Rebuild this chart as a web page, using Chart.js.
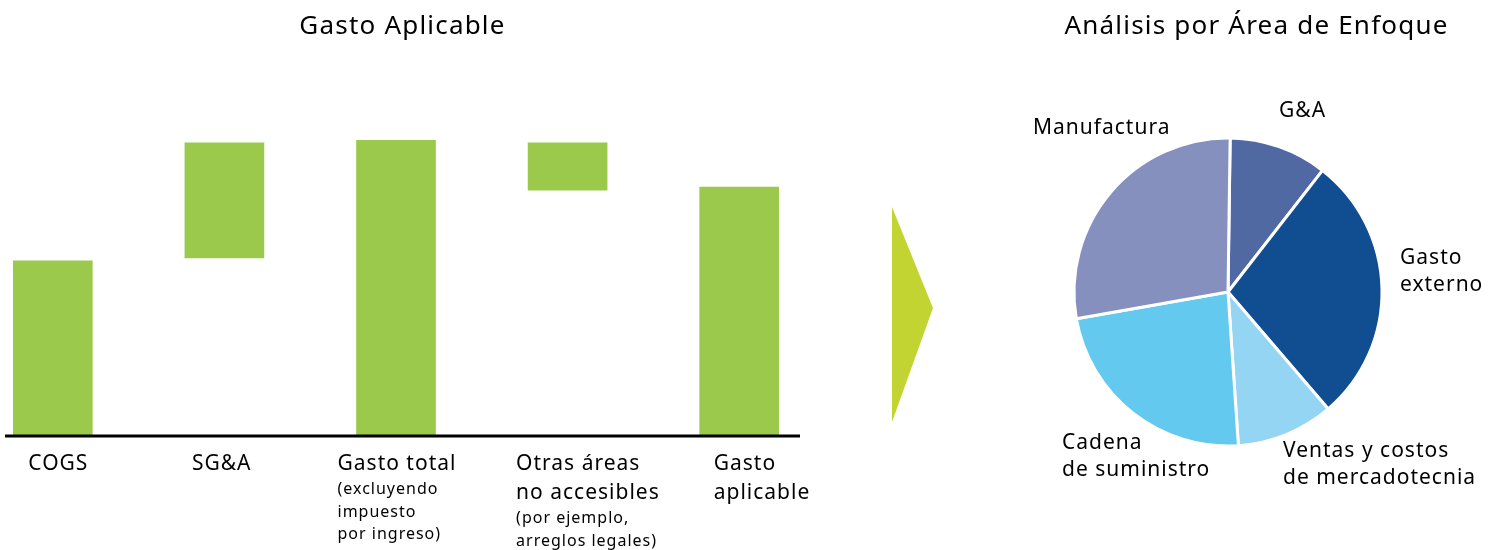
<!DOCTYPE html>
<html>
<head>
<meta charset="utf-8">
<script src="https://cdn.jsdelivr.net/npm/chart.js@4/dist/chart.umd.min.js"></script>
<style>
    body { margin: 0; width: 1497px; height: 550px; background: #fff; position: relative; overflow: hidden; }
    #bars { position: absolute; left: -33px; top: 0; }
    #pie { position: absolute; left: 1017px; top: 0; }
    #arrow {
        position: absolute; left: 892px; top: 207px; width: 41px; height: 215px;
        background: #c1d432; clip-path: polygon(0 0, 100% 47%, 0 100%);
    }
</style>
</head>
<body>
<canvas id="bars" width="870" height="550"></canvas>
<div id="arrow"></div>
<canvas id="pie" width="480" height="550"></canvas>
<script>
// waterfall
const categories = ["COGS", "SG&A", "Gasto total", "Otras áreas", "Gasto aplicable"];
const barStart = [0, 60, 0, 83, 0];
const barEnd = [59, 99, 100, 99, 84];
const labelMain = [["COGS"], ["SG&A"], ["Gasto total"], ["Otras áreas", "no accesibles"], ["Gasto", "aplicable"]];
const labelSub = [[], [], ["(excluyendo", "impuesto", "por ingreso)"], ["(por ejemplo,", "arreglos legales)"], []];

// pie
const pieCategories = ["G&A", "Gasto externo", "Ventas y costos de mercadotecnia", "Cadena de suministro", "Manufactura"];
const pieValues = [10.3, 28.2, 10.2, 23.3, 28.0];
const pieLabelLines = [["G&A"], ["Gasto", "externo"], ["Ventas y costos", "de mercadotecnia"], ["Cadena", "de suministro"], ["Manufactura"]];
const pieColors = ["#5169a3", "#114d91", "#93d5f2", "#63c9ef", "#8690bf"];

const FONT = "'Noto Sans', sans-serif";

// title drawn by hand so it can sit off the chart-area centre
const sideTitle = {
    id: "sideTitle",
    afterDraw(chart, args, opts) {
        const ctx = chart.ctx;
        ctx.save();
        ctx.letterSpacing = "1.2px";
        ctx.fillStyle = "#000";
        ctx.font = "26px " + FONT;
        ctx.textAlign = "center";
        ctx.textBaseline = "middle";
        ctx.fillText(opts.text, opts.x, opts.y);
        ctx.restore();
    },
};

const barLabels = {
    id: "barLabels",
    afterDraw(chart) {
        const ctx = chart.ctx;
        const meta = chart.getDatasetMeta(0);
        const offsets = [15, 7, -19, -12, 14];
        const base = chart.scales.y.getPixelForValue(0);
        ctx.save();
        // baseline
        ctx.strokeStyle = "#000";
        ctx.lineWidth = 3;
        ctx.beginPath();
        ctx.moveTo(chart.chartArea.left + 38, base + 1);
        ctx.lineTo(chart.chartArea.right - 25, base + 1);
        ctx.stroke();

        ctx.letterSpacing = "1px";
        ctx.fillStyle = "#000";
        ctx.textAlign = "left";
        ctx.textBaseline = "middle";
        meta.data.forEach((bar, i) => {
            const x = bar.x - bar.width / 2 + offsets[i];
            let y = base + 29;
            ctx.font = "21px " + FONT;
            labelMain[i].forEach((line, j) => {
                ctx.fillText(line, x, y);
                if (j < labelMain[i].length - 1) y += 29;
            });
            y += 25.5;
            ctx.font = "16px " + FONT;
            labelSub[i].forEach((line) => {
                ctx.fillText(line, x, y);
                y += 22.5;
            });
        });
        ctx.restore();
    },
};

new Chart(document.getElementById("bars").getContext("2d"), {
    type: "bar",
    data: {
        labels: categories,
        datasets: [
            {
                data: categories.map((c, i) => [barStart[i], barEnd[i]]),
                backgroundColor: "#9bc94c",
                barThickness: 79,
                borderSkipped: false,
            },
        ],
    },
    options: {
        responsive: false,
        animation: false,
        layout: { padding: { left: 0, right: 12, top: 140, bottom: 115 } },
        plugins: {
            legend: { display: false },
            tooltip: { enabled: false },
            sideTitle: { text: "Gasto Aplicable", x: 435.5, y: 27 },
        },
        scales: {
            x: { display: false },
            y: { display: false, min: 0, max: 100 },
        },
    },
    plugins: [barLabels, sideTitle],
});

const pieLabels = {
    id: "pieLabels",
    afterDraw(chart) {
        const ctx = chart.ctx;
        const arc = chart.getDatasetMeta(0).data[0];
        const cx = arc.x, cy = arc.y;
        // label anchor offsets from the pie centre
        const anchors = [[51, -181], [172, -34], [55, 159], [-166, 151], [-195, -164]];
        ctx.save();
        ctx.letterSpacing = "1px";
        ctx.fillStyle = "#000";
        ctx.font = "21px " + FONT;
        ctx.textAlign = "left";
        ctx.textBaseline = "middle";
        pieLabelLines.forEach((lines, i) => {
            lines.forEach((line, j) => {
                ctx.fillText(line, cx + anchors[i][0], cy + anchors[i][1] + j * 27);
            });
        });
        ctx.restore();
    },
};

new Chart(document.getElementById("pie").getContext("2d"), {
    type: "pie",
    data: {
        labels: pieCategories,
        datasets: [
            {
                data: pieValues,
                backgroundColor: pieColors,
                borderColor: "#fff",
                borderWidth: 3,
            },
        ],
    },
    options: {
        responsive: false,
        animation: false,
        rotation: 0.8,
        radius: 154,
        layout: { padding: { left: 30, right: 88, top: 50, bottom: 16 } },
        plugins: {
            legend: { display: false },
            tooltip: { enabled: false },
            sideTitle: { text: "Análisis por Área de Enfoque", x: 239.5, y: 27 },
        },
    },
    plugins: [pieLabels, sideTitle],
});
</script>
</body>
</html>
